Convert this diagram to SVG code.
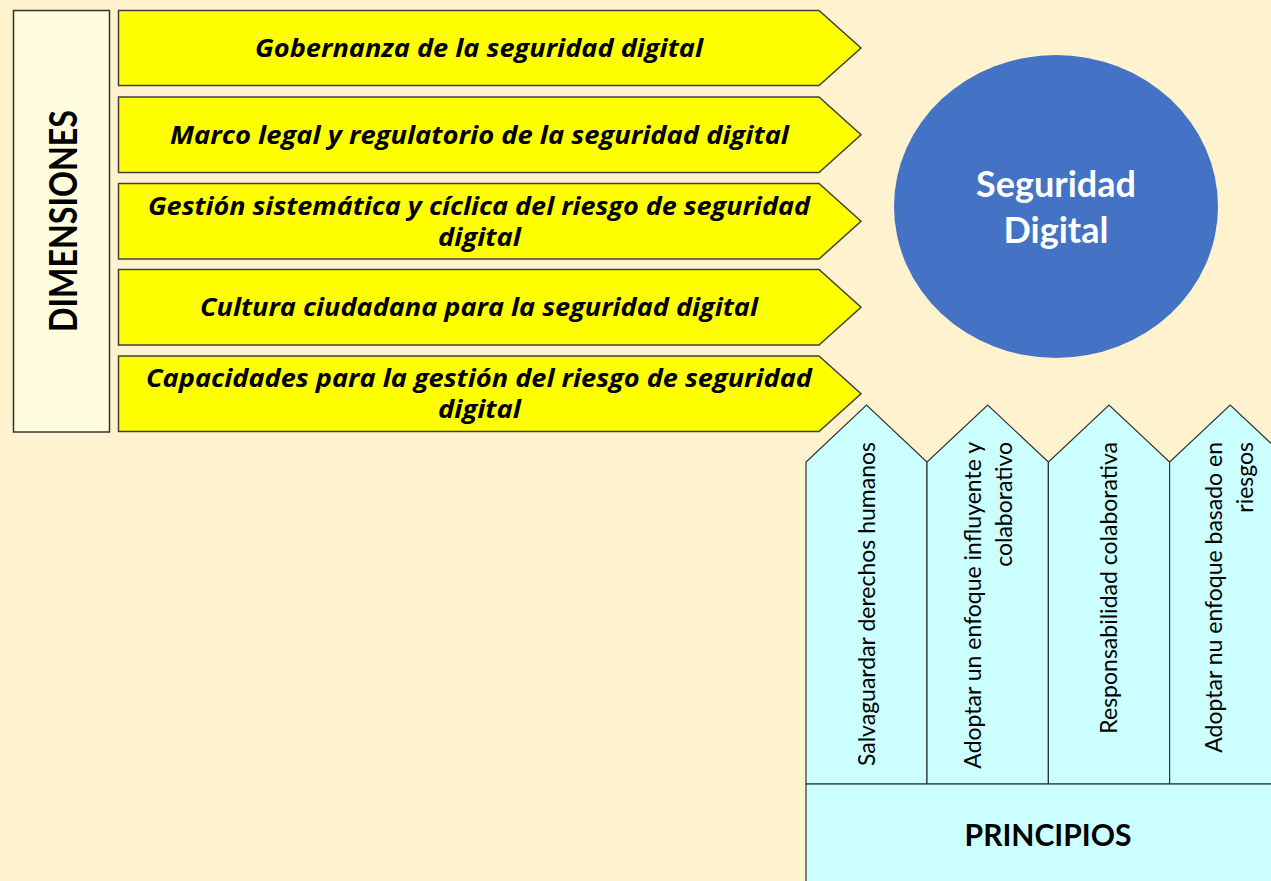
<svg xmlns="http://www.w3.org/2000/svg" width="1271" height="881" viewBox="0 0 1271 881">
<style>
.dimbox{fill:#FFFDDD;stroke:#333333;stroke-width:1.5}
.arrow{fill:#FFFF00;stroke:#404040;stroke-width:1.5;stroke-linejoin:miter}
.atext{font-family:"Open Sans",Lato,sans-serif;font-weight:bold;font-style:italic;font-size:25px;fill:#000;text-anchor:middle}
.col{fill:#CCFFFF;stroke:#333333;stroke-width:1.2}
.ptext{font-family:Lato,"Open Sans",sans-serif;font-size:23px;fill:#000;text-anchor:end}
.title{font-family:Lato,"Open Sans",sans-serif;font-weight:bold;fill:#000;text-anchor:middle}
</style>
<rect width="1271" height="881" fill="#FFF2CF"/>
<g id="dimensiones">
<rect class="dimbox" x="13.5" y="10.5" width="96" height="421.5"/>
<text class="title" font-size="38" transform="translate(76.5,221) rotate(-90)" x="0" y="0" textLength="222" lengthAdjust="spacingAndGlyphs">DIMENSIONES</text>
</g>
<g id="dim1">
<path class="arrow" d="M118.5,10.5 H819 L861,48 L819,85.5 H118.5 Z"/>
<text class="atext" x="479" y="57" textLength="448" lengthAdjust="spacingAndGlyphs">Gobernanza de la seguridad digital</text>
</g>
<g id="dim2">
<path class="arrow" d="M118.5,97 H819 L861,134.75 L819,172.5 H118.5 Z"/>
<text class="atext" x="479.5" y="143.5" textLength="619" lengthAdjust="spacingAndGlyphs">Marco legal y regulatorio de la seguridad digital</text>
</g>
<g id="dim3">
<path class="arrow" d="M118.5,183.5 H819 L861,221.25 L819,259 H118.5 Z"/>
<text class="atext" x="479" y="215" textLength="662" lengthAdjust="spacingAndGlyphs">Gestión sistemática y cíclica del riesgo de seguridad</text>
<text class="atext" x="479.5" y="246" textLength="83" lengthAdjust="spacingAndGlyphs">digital</text>
</g>
<g id="dim4">
<path class="arrow" d="M118.5,269.5 H819 L861,307.25 L819,345 H118.5 Z"/>
<text class="atext" x="479" y="316" textLength="558" lengthAdjust="spacingAndGlyphs">Cultura ciudadana para la seguridad digital</text>
</g>
<g id="dim5">
<path class="arrow" d="M118.5,356 H819 L861,393.75 L819,431.5 H118.5 Z"/>
<text class="atext" x="479" y="386.5" textLength="666" lengthAdjust="spacingAndGlyphs">Capacidades para la gestión del riesgo de seguridad</text>
<text class="atext" x="479.5" y="417.5" textLength="83" lengthAdjust="spacingAndGlyphs">digital</text>
</g>
<g id="seguridad-digital">
<ellipse cx="1056" cy="206.5" rx="162" ry="151.5" fill="#4472C4"/>
<text class="title" font-size="36" style="fill:#FFFFFF" x="1056" y="196.5">Seguridad</text>
<text class="title" font-size="36" style="fill:#FFFFFF" x="1056" y="243">Digital</text>
</g>
<g id="principio1">
<path class="col" d="M806,784 V462 L866.5,405 L927,462 V784 Z"/>
<text class="ptext" transform="translate(875,442) rotate(-90)">Salvaguardar derechos humanos</text>
</g>
<g id="principio2">
<path class="col" d="M927,784 V462 L987.7,405 L1048.4,462 V784 Z"/>
<text class="ptext" transform="translate(981,442) rotate(-90)">Adoptar un enfoque influyente y</text>
<text class="ptext" transform="translate(1012,442) rotate(-90)">colaborativo</text>
</g>
<g id="principio3">
<path class="col" d="M1048.4,784 V462 L1109,405 L1169.6,462 V784 Z"/>
<text class="ptext" transform="translate(1117,442) rotate(-90)">Responsabilidad colaborativa</text>
</g>
<g id="principio4">
<path class="col" d="M1169.6,784 V462 L1230.2,405 L1290.8,462 V784 Z"/>
<text class="ptext" transform="translate(1222,442) rotate(-90)">Adoptar nu enfoque basado en</text>
<text class="ptext" transform="translate(1253,442) rotate(-90)">riesgos</text>
</g>
<g id="principios">
<rect class="col" x="806" y="784" width="500" height="120"/>
<text class="title" font-size="30" x="1048" y="846">PRINCIPIOS</text>
</g>
<g id="connectors"></g>
</svg>
